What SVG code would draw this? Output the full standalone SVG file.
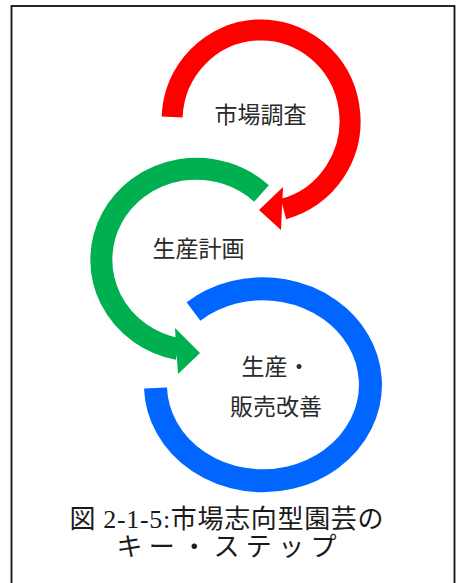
<svg xmlns="http://www.w3.org/2000/svg" width="456" height="583" viewBox="0 0 456 583">
<style>
.lbl{font-family:"Noto Sans CJK JP","Noto Sans",sans-serif;font-size:23px;fill:#2a2a2a;text-anchor:middle}
.cap{font-family:"Liberation Serif","Noto Sans CJK JP",serif;font-size:26px;fill:#1a1a1a;text-anchor:middle}
.ring{fill:none;stroke-linecap:butt}
</style>
<rect x="0" y="0" width="456" height="583" fill="#ffffff"/>
<rect x="11.5" y="6" width="443" height="600" fill="none" stroke="#111" stroke-width="1.8"/>
<g id="connectors">
  <g id="red-arrow">
    <path class="ring" d="M172.1 117 A89 91 0 1 1 283.5 209" stroke="#ff0000" stroke-width="21"/>
    <polygon points="283,187 259,210 281,230" fill="#ff0000"/>
  </g>
  <g id="green-arrow">
    <path class="ring" d="M261.5 193.5 A95 91 0 1 0 178 349" stroke="#00b050" stroke-width="22"/>
    <polygon points="175,328 200,353 178,374" fill="#00b050"/>
  </g>
  <g id="blue-ring">
    <path class="ring" d="M193.5 311.5 A107.5 96 0 1 1 155.5 388" stroke="#0066ff" stroke-width="23"/>
  </g>
</g>
<g id="node-market-research">
  <text class="lbl" x="260.5" y="123">市場調査</text>
</g>
<g id="node-production-planning">
  <text class="lbl" x="198.5" y="257">生産計画</text>
</g>
<g id="node-production-sales">
  <text class="lbl" x="276" y="375">生産・</text>
  <text class="lbl" x="276" y="415">販売改善</text>
</g>
<g id="caption">
  <text class="cap" x="226.5" y="528" textLength="314" lengthAdjust="spacing">図 2-1-5:市場志向型園芸の</text>
  <text class="cap" x="226.5" y="556" textLength="220" lengthAdjust="spacing">キー・ステップ</text>
</g>
</svg>
